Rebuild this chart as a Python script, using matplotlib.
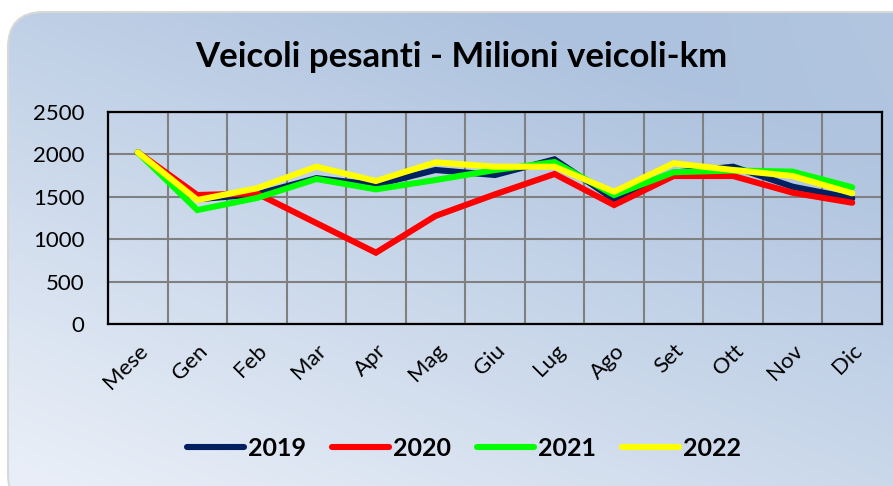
import numpy as np
import matplotlib
matplotlib.use("Agg")
import matplotlib.pyplot as plt
from matplotlib.patches import FancyBboxPatch
from matplotlib.colors import to_rgb

# categories and values (million vehicle-km, heavy vehicles)
mesi = ["Mese", "Gen", "Feb", "Mar", "Apr", "Mag", "Giu", "Lug", "Ago", "Set", "Ott", "Nov", "Dic"]
v2019 = [2025, 1470, 1530, 1720, 1640, 1816, 1757, 1942, 1470, 1784, 1855, 1619, 1482]
v2020 = [2025, 1521, 1540, 1190, 841, 1274, 1529, 1769, 1403, 1745, 1745, 1548, 1430]
v2021 = [2025, 1344, 1486, 1710, 1588, 1698, 1816, 1910, 1521, 1790, 1810, 1796, 1612]
v2022 = [2025, 1462, 1600, 1855, 1686, 1906, 1855, 1855, 1560, 1895, 1816, 1745, 1541]
anni = ["2019", "2020", "2021", "2022"]
colori = ["#002060", "#ff0000", "#00ff00", "#ffff00"]

plt.rcParams["font.family"] = ["Lato", "DejaVu Sans"]

fig = plt.figure(figsize=(8.93, 4.86), dpi=100)

# background: rounded panel with a soft blue gradient
bg = fig.add_axes([0, 0, 1, 1])
bg.set_xlim(0, 1)
bg.set_ylim(0, 1)
bg.axis("off")
xx, yy = np.meshgrid(np.linspace(0, 1, 300), np.linspace(0, 1, 200))
t = np.clip(0.55 * xx + 0.75 * yy - 0.05, 0, 1)
t = t - 0.35 * np.clip(xx - 0.75, 0, 1) * yy
c1 = np.array(to_rgb("#e8eef7"))
c2 = np.array(to_rgb("#adc2de"))
img = c1[None, None, :] * (1 - t[..., None]) + c2[None, None, :] * t[..., None]
panel = FancyBboxPatch((8 / 893, -0.05), 1.2, (486 - 12) / 486 + 0.05,
                       boxstyle="round,pad=0,rounding_size=0.04",
                       facecolor="none", edgecolor="#d8d8d8", lw=1.5,
                       transform=bg.transAxes, mutation_aspect=893 / 486)
bg.add_patch(panel)
im = bg.imshow(img, extent=[0, 1, 0, 1], origin="lower", aspect="auto")
im.set_clip_path(panel)

ax = fig.add_axes([108 / 893, 1 - 324 / 486, (882 - 108) / 893, (324 - 112) / 486])
ax.patch.set_alpha(0)
x = np.arange(len(mesi))
for serie, anno, col in zip([v2019, v2020, v2021, v2022], anni, colori):
    ax.plot(x, serie, color=col, lw=4.4, label=anno, solid_capstyle="round",
            solid_joinstyle="miter", zorder=3)

ax.set_xlim(-0.5, len(mesi) - 0.5)
ax.set_ylim(0, 2500)
ax.set_yticks(range(0, 2501, 500))
ax.set_xticks(x)
ax.set_xticks(np.arange(-0.5, len(mesi)), minor=True)
ax.set_xticklabels(mesi, rotation=45, ha="right", rotation_mode="anchor", fontsize=16)
ax.tick_params(axis="y", labelsize=16, length=0, pad=17)
ax.tick_params(axis="x", which="both", length=0, pad=12)
ax.grid(True, axis="y", color="#808080", lw=1.5)
ax.grid(True, axis="x", which="minor", color="#808080", lw=1.5)
ax.set_axisbelow(True)
for s in ax.spines.values():
    s.set_color("black")
    s.set_linewidth(1.6)

fig.text(0.517, 0.882, "Veicoli pesanti - Milioni veicoli-km", ha="center", va="center",
         fontsize=25, fontweight="bold")

leg = fig.legend(loc="center", bbox_to_anchor=(0.52, 0.078), ncol=4, frameon=False,
                 prop={"weight": "bold", "size": 18}, handlelength=2.25,
                 handletextpad=0.18, columnspacing=1.05)
for h in leg.legend_handles:
    h.set_linewidth(4.4)

fig.savefig("out.png", dpi=100)
